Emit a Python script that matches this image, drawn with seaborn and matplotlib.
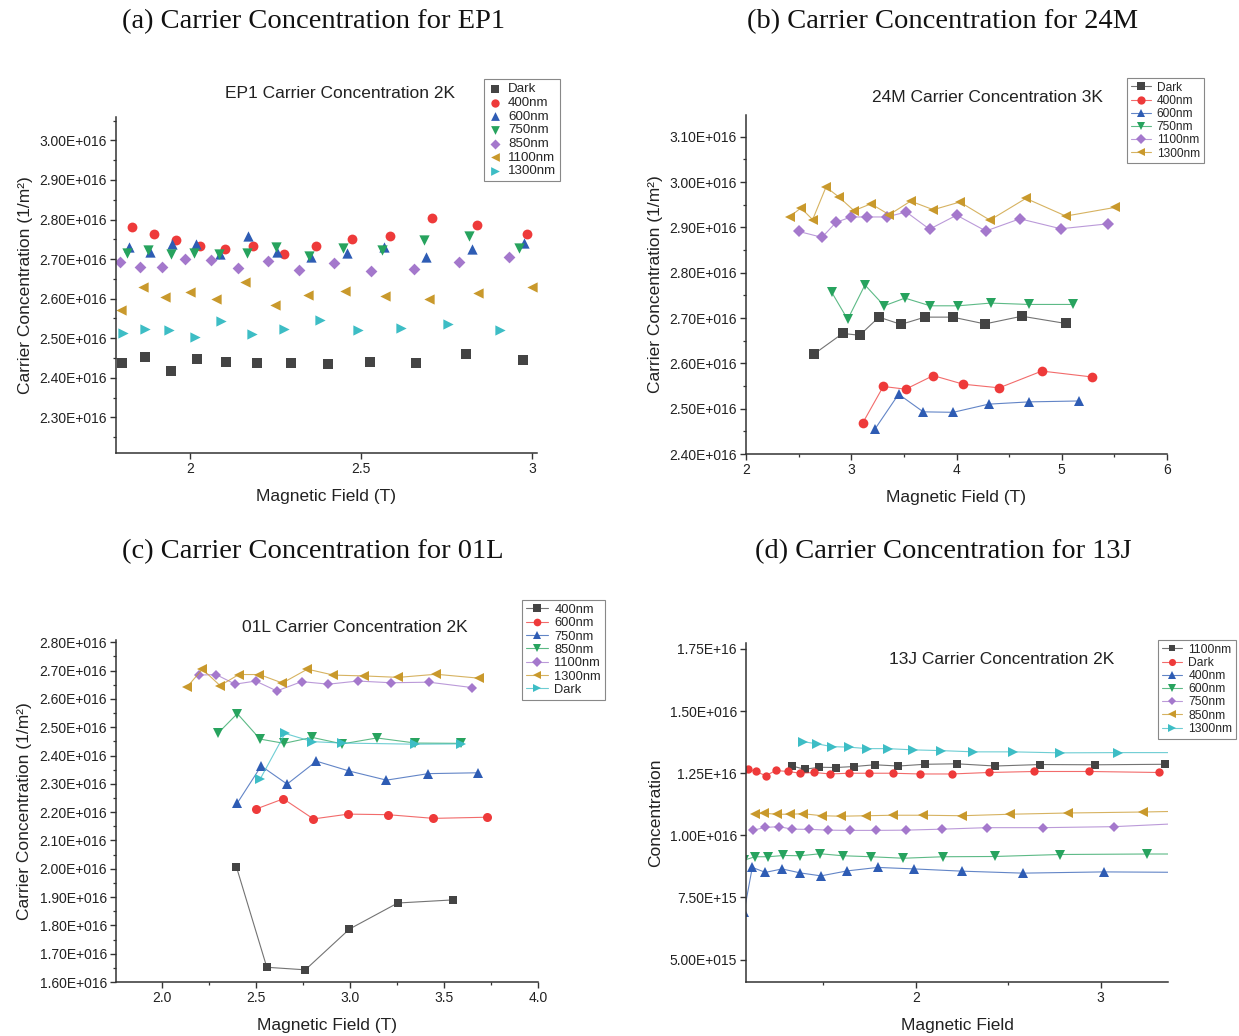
import numpy as np
import pandas as pd
import matplotlib
matplotlib.use("Agg")
import matplotlib.pyplot as plt
import matplotlib.colors as mcolors
import seaborn as sns
from matplotlib.ticker import FixedLocator, MultipleLocator, NullLocator

sns.set_theme(style="ticks")
plt.rcParams["font.family"] = ["Liberation Sans", "DejaVu Sans"]

# ---------------- data (y values in units of 1E+16) ----------------
# (a) EP1, 2K
a_dark_x = [1.803, 1.870, 1.944, 2.020, 2.105, 2.196, 2.296, 2.405, 2.526, 2.661, 2.808, 2.975]
a_dark_y = [2.437, 2.453, 2.417, 2.447, 2.440, 2.437, 2.437, 2.434, 2.439, 2.437, 2.460, 2.445]
a_400_x = [1.832, 1.894, 1.958, 2.029, 2.103, 2.185, 2.274, 2.369, 2.473, 2.585, 2.708, 2.840, 2.987]
a_400_y = [2.780, 2.764, 2.747, 2.734, 2.725, 2.734, 2.712, 2.734, 2.751, 2.759, 2.804, 2.785, 2.763]
a_600_x = [1.822, 1.883, 1.948, 2.017, 2.088, 2.169, 2.256, 2.353, 2.458, 2.567, 2.691, 2.825, 2.977]
a_600_y = [2.731, 2.718, 2.737, 2.737, 2.713, 2.758, 2.718, 2.705, 2.716, 2.731, 2.706, 2.725, 2.740]
a_750_x = [1.816, 1.879, 1.944, 2.013, 2.085, 2.166, 2.252, 2.349, 2.448, 2.561, 2.684, 2.817, 2.963]
a_750_y = [2.716, 2.724, 2.712, 2.716, 2.712, 2.716, 2.730, 2.708, 2.727, 2.724, 2.748, 2.759, 2.727]
a_850_x = [1.795, 1.855, 1.918, 1.987, 2.061, 2.140, 2.227, 2.320, 2.421, 2.531, 2.654, 2.787, 2.934]
a_850_y = [2.692, 2.681, 2.680, 2.701, 2.698, 2.678, 2.695, 2.672, 2.691, 2.670, 2.676, 2.692, 2.705]
a_1100_x = [1.798, 1.862, 1.926, 1.999, 2.076, 2.161, 2.249, 2.346, 2.453, 2.570, 2.700, 2.843, 2.999]
a_1100_y = [2.571, 2.630, 2.605, 2.617, 2.598, 2.642, 2.583, 2.609, 2.619, 2.606, 2.600, 2.615, 2.629]
a_1300_x = [1.805, 1.868, 1.939, 2.015, 2.092, 2.182, 2.276, 2.380, 2.493, 2.616, 2.754, 2.908]
a_1300_y = [2.512, 2.524, 2.521, 2.504, 2.543, 2.511, 2.523, 2.545, 2.522, 2.526, 2.536, 2.521]

# (b) 24M, 3K
b_dark_x = [2.649, 2.918, 3.080, 3.263, 3.472, 3.700, 3.963, 4.270, 4.621, 5.039]
b_dark_y = [2.621, 2.666, 2.662, 2.702, 2.686, 2.702, 2.702, 2.687, 2.704, 2.688]
b_400_x = [3.108, 3.304, 3.517, 3.779, 4.064, 4.406, 4.811, 5.286]
b_400_y = [2.468, 2.549, 2.543, 2.573, 2.554, 2.546, 2.583, 2.570]
b_600_x = [3.225, 3.450, 3.684, 3.969, 4.305, 4.690, 5.162]
b_600_y = [2.455, 2.532, 2.493, 2.492, 2.510, 2.515, 2.517]
b_750_x = [2.814, 2.966, 3.130, 3.313, 3.510, 3.750, 4.016, 4.324, 4.685, 5.108]
b_750_y = [2.757, 2.697, 2.773, 2.727, 2.744, 2.727, 2.727, 2.733, 2.730, 2.730]
b_1100_x = [2.503, 2.722, 2.855, 2.997, 3.152, 3.336, 3.522, 3.744, 4.001, 4.279, 4.602, 4.991, 5.444]
b_1100_y = [2.891, 2.878, 2.911, 2.923, 2.923, 2.923, 2.934, 2.896, 2.927, 2.892, 2.919, 2.897, 2.908]
b_1300_x = [2.418, 2.522, 2.633, 2.760, 2.883, 3.026, 3.187, 3.361, 3.564, 3.779, 4.032, 4.317, 4.659, 5.039, 5.504]
b_1300_y = [2.924, 2.943, 2.917, 2.989, 2.967, 2.937, 2.952, 2.928, 2.958, 2.939, 2.956, 2.916, 2.964, 2.925, 2.944]

# (c) 01L, 2K
c_400_x = [2.394, 2.556, 2.761, 2.996, 3.253, 3.548]
c_400_y = [2.007, 1.652, 1.643, 1.787, 1.879, 1.890]
c_600_x = [2.499, 2.644, 2.804, 2.990, 3.200, 3.443, 3.729]
c_600_y = [2.211, 2.247, 2.176, 2.193, 2.191, 2.178, 2.182]
c_750_x = [2.398, 2.526, 2.664, 2.820, 2.996, 3.193, 3.416, 3.679]
c_750_y = [2.231, 2.363, 2.299, 2.380, 2.345, 2.313, 2.336, 2.339]
c_850_x = [2.295, 2.399, 2.520, 2.648, 2.797, 2.958, 3.142, 3.347, 3.589]
c_850_y = [2.478, 2.548, 2.458, 2.443, 2.464, 2.441, 2.462, 2.444, 2.443]
c_1100_x = [2.195, 2.286, 2.387, 2.497, 2.609, 2.742, 2.884, 3.040, 3.218, 3.419, 3.649]
c_1100_y = [2.684, 2.686, 2.652, 2.663, 2.628, 2.661, 2.652, 2.663, 2.657, 2.659, 2.640]
c_1300_x = [2.130, 2.213, 2.307, 2.407, 2.517, 2.639, 2.772, 2.911, 3.076, 3.257, 3.457, 3.688]
c_1300_y = [2.641, 2.705, 2.647, 2.686, 2.686, 2.656, 2.705, 2.684, 2.681, 2.676, 2.687, 2.673]
c_dark_x = [2.520, 2.653, 2.798, 2.958, 3.347, 3.589]
c_dark_y = [2.316, 2.478, 2.449, 2.444, 2.440, 2.441]

# (d) 13J, 2K
d_1100_x = [1.330, 1.399, 1.478, 1.567, 1.666, 1.778, 1.906, 2.049, 2.222, 2.429, 2.673, 2.971, 3.350]
d_1100_y = [1.279, 1.266, 1.274, 1.273, 1.277, 1.284, 1.279, 1.286, 1.288, 1.279, 1.285, 1.284, 1.286]
d_dark_x = [1.093, 1.135, 1.188, 1.242, 1.307, 1.375, 1.451, 1.536, 1.637, 1.747, 1.875, 2.023, 2.195, 2.395, 2.642, 2.940, 3.314]
d_dark_y = [1.266, 1.257, 1.240, 1.261, 1.257, 1.250, 1.253, 1.247, 1.250, 1.250, 1.250, 1.247, 1.247, 1.253, 1.257, 1.257, 1.253]
d_400_x = [1.070, 1.115, 1.186, 1.276, 1.374, 1.487, 1.628, 1.794, 1.991, 2.249, 2.579, 3.018, 3.500]
d_400_y = [0.690, 0.871, 0.851, 0.865, 0.849, 0.837, 0.857, 0.871, 0.865, 0.856, 0.848, 0.853, 0.851]
d_600_x = [1.070, 1.130, 1.202, 1.283, 1.374, 1.482, 1.605, 1.756, 1.933, 2.149, 2.426, 2.781, 3.251, 3.500]
d_600_y = [0.900, 0.914, 0.914, 0.919, 0.918, 0.926, 0.918, 0.914, 0.908, 0.914, 0.915, 0.923, 0.925, 0.925]
d_750_x = [1.121, 1.186, 1.258, 1.332, 1.424, 1.527, 1.644, 1.785, 1.946, 2.142, 2.384, 2.688, 3.072, 3.500]
d_750_y = [1.021, 1.032, 1.035, 1.025, 1.024, 1.021, 1.020, 1.020, 1.021, 1.025, 1.031, 1.031, 1.035, 1.050]
d_850_x = [1.130, 1.180, 1.247, 1.319, 1.391, 1.491, 1.596, 1.731, 1.879, 2.041, 2.249, 2.511, 2.826, 3.232, 3.500]
d_850_y = [1.086, 1.089, 1.085, 1.085, 1.087, 1.079, 1.077, 1.079, 1.081, 1.081, 1.079, 1.085, 1.090, 1.094, 1.098]
d_1300_x = [1.391, 1.467, 1.547, 1.637, 1.738, 1.848, 1.987, 2.137, 2.312, 2.528, 2.781, 3.097, 3.500]
d_1300_y = [1.377, 1.368, 1.357, 1.355, 1.349, 1.349, 1.344, 1.341, 1.336, 1.336, 1.332, 1.333, 1.333]

# tick labels
a_yticks = [2.3, 2.4, 2.5, 2.6, 2.7, 2.8, 2.9, 3.0]
a_ylabels = ["2.30E+016", "2.40E+016", "2.50E+016", "2.60E+016", "2.70E+016", "2.80E+016", "2.90E+016", "3.00E+016"]
a_xticks = [2, 2.5, 3]
a_xlabels = ["2", "2.5", "3"]
b_yticks = [2.4, 2.5, 2.6, 2.7, 2.8, 2.9, 3.0, 3.1]
b_ylabels = ["2.40E+016", "2.50E+016", "2.60E+016", "2.70E+016", "2.80E+016", "2.90E+016", "3.00E+016", "3.10E+016"]
b_xticks = [2, 3, 4, 5, 6]
b_xlabels = ["2", "3", "4", "5", "6"]
c_yticks = [1.6, 1.7, 1.8, 1.9, 2.0, 2.1, 2.2, 2.3, 2.4, 2.5, 2.6, 2.7, 2.8]
c_ylabels = ["1.60E+016", "1.70E+016", "1.80E+016", "1.90E+016", "2.00E+016", "2.10E+016", "2.20E+016",
             "2.30E+016", "2.40E+016", "2.50E+016", "2.60E+016", "2.70E+016", "2.80E+016"]
c_xticks = [2.0, 2.5, 3.0, 3.5, 4.0]
c_xlabels = ["2.0", "2.5", "3.0", "3.5", "4.0"]
d_yticks = [0.5, 0.75, 1.0, 1.25, 1.5, 1.75]
d_ylabels = ["5.00E+015", "7.50E+15", "1.00E+016", "1.25E+16", "1.50E+016", "1.75E+16"]
d_xticks = [2, 3]
d_xlabels = ["2", "3"]

# ---------------- style ----------------
C_DARK = "#444444"
C_RED = "#EE3A3A"
C_BLUE = "#2E5CB4"
C_GREEN = "#27A35E"
C_PURPLE = "#A478CC"
C_GOLD = "#C9992C"
C_CYAN = "#3DBDC5"
SPINE = "#333333"

W, H = 1239, 1036
fig = plt.figure(figsize=(W / 100, H / 100), dpi=100)
fig.patch.set_facecolor("white")


def ax_px(l, t, r, b):
    return fig.add_axes([l / W, 1 - b / H, (r - l) / W, (b - t) / H])


def style_axis(ax, xlim, ylim, xt, xl, yt, yl, xminor, yminor, xlabel, ylabel):
    ax.set_xlim(*xlim)
    ax.set_ylim(*ylim)
    ax.xaxis.set_major_locator(FixedLocator(xt))
    ax.set_xticklabels(xl)
    ax.yaxis.set_major_locator(FixedLocator(yt))
    ax.set_yticklabels(yl)
    if xminor:
        ax.xaxis.set_minor_locator(MultipleLocator(xminor))
    else:
        ax.xaxis.set_minor_locator(NullLocator())
    if yminor:
        ax.yaxis.set_minor_locator(MultipleLocator(yminor))
    else:
        ax.yaxis.set_minor_locator(NullLocator())
    for s in ["top", "right"]:
        ax.spines[s].set_visible(False)
    for s in ["left", "bottom"]:
        ax.spines[s].set_color(SPINE)
        ax.spines[s].set_linewidth(1.1)
    ax.tick_params(which="major", direction="out", length=4.5, width=1.0, color=SPINE,
                   labelsize=10, labelcolor="#222222", pad=2)
    ax.tick_params(which="minor", direction="out", length=2.5, width=0.9, color=SPINE)
    ax.set_xlabel(xlabel, fontsize=12.5, color="#222222", labelpad=9)
    ax.set_ylabel(ylabel, fontsize=12.5, color="#222222", labelpad=5)
    ax.set_facecolor("white")
    ax.grid(False)


def leg(ax, x, y, fs, marker_only=False):
    lg = ax.legend(loc="upper left", bbox_to_anchor=(x / W, 1 - y / H), bbox_transform=fig.transFigure,
                   fontsize=fs, frameon=True, fancybox=False, edgecolor="#888888", framealpha=1,
                   borderpad=0.3, labelspacing=0.1, handletextpad=0.5,
                   handlelength=1.0 if marker_only else 1.7, borderaxespad=0, markerscale=0.85)
    lg.get_frame().set_linewidth(0.8)
    return lg


def series_line(ax, x, y, color, marker, label, ms=7.0):
    df = pd.DataFrame({"x": x, "y": y})
    sns.lineplot(data=df, x="x", y="y", ax=ax, color=color, marker=marker, markersize=ms,
                 markeredgewidth=0, linewidth=0.8, estimator=None, sort=False, label=label)
    ln = ax.lines[-1]
    ln.set_color(mcolors.to_rgba(color, 0.75))
    ln.set_markerfacecolor(color)
    ln.set_markeredgecolor(color)


def series_pts(ax, x, y, color, marker, label, s=48):
    df = pd.DataFrame({"x": x, "y": y})
    sns.scatterplot(data=df, x="x", y="y", ax=ax, color=color, marker=marker, s=s,
                    linewidth=0, label=label)


YLAB = "Carrier Concentration (1/m²)"
XLAB = "Magnetic Field (T)"

# ---------------- (a) ----------------
axA = ax_px(116, 117, 537, 453)
series_pts(axA, a_dark_x, a_dark_y, C_DARK, "s", "Dark", 42)
series_pts(axA, a_400_x, a_400_y, C_RED, "o", "400nm", 50)
series_pts(axA, a_600_x, a_600_y, C_BLUE, "^", "600nm", 55)
series_pts(axA, a_750_x, a_750_y, C_GREEN, "v", "750nm", 55)
series_pts(axA, a_850_x, a_850_y, C_PURPLE, "D", "850nm", 36)
series_pts(axA, a_1100_x, a_1100_y, C_GOLD, "<", "1100nm", 55)
series_pts(axA, a_1300_x, a_1300_y, C_CYAN, ">", "1300nm", 55)
style_axis(axA, (1.784, 3.015), (2.21, 3.059), a_xticks, a_xlabels, a_yticks, a_ylabels,
           None, 0.05, XLAB, YLAB)
leg(axA, 484, 79, 9.6, marker_only=True)

# ---------------- (b) ----------------
axB = ax_px(746, 115, 1167, 454)
series_line(axB, b_dark_x, b_dark_y, C_DARK, "s", "Dark", 6.5)
series_line(axB, b_400_x, b_400_y, C_RED, "o", "400nm", 7)
series_line(axB, b_600_x, b_600_y, C_BLUE, "^", "600nm", 7.5)
series_line(axB, b_750_x, b_750_y, C_GREEN, "v", "750nm", 7.5)
series_line(axB, b_1100_x, b_1100_y, C_PURPLE, "D", "1100nm", 6)
series_line(axB, b_1300_x, b_1300_y, C_GOLD, "<", "1300nm", 7.5)
style_axis(axB, (2, 6), (2.40, 3.148), b_xticks, b_xlabels, b_yticks, b_ylabels,
           0.5, 0.05, XLAB, YLAB)
leg(axB, 1127, 78, 8.6)

# ---------------- (c) ----------------
axC = ax_px(116, 640, 538, 982)
series_line(axC, c_400_x, c_400_y, C_DARK, "s", "400nm", 6)
series_line(axC, c_600_x, c_600_y, C_RED, "o", "600nm", 6.5)
series_line(axC, c_750_x, c_750_y, C_BLUE, "^", "750nm", 7)
series_line(axC, c_850_x, c_850_y, C_GREEN, "v", "850nm", 7)
series_line(axC, c_1100_x, c_1100_y, C_PURPLE, "D", "1100nm", 5.5)
series_line(axC, c_1300_x, c_1300_y, C_GOLD, "<", "1300nm", 7)
series_line(axC, c_dark_x, c_dark_y, C_CYAN, ">", "Dark", 7)
style_axis(axC, (1.753, 4.0), (1.60, 2.808), c_xticks, c_xlabels, c_yticks, c_ylabels,
           0.25, 0.05, XLAB, YLAB)
leg(axC, 522, 600, 9.3)

# ---------------- (d) ----------------
axD = ax_px(746, 643, 1168, 982)
series_line(axD, d_1100_x, d_1100_y, C_DARK, "s", "1100nm", 5.5)
series_line(axD, d_dark_x, d_dark_y, C_RED, "o", "Dark", 6)
series_line(axD, d_400_x, d_400_y, C_BLUE, "^", "400nm", 6.5)
series_line(axD, d_600_x, d_600_y, C_GREEN, "v", "600nm", 6.5)
series_line(axD, d_750_x, d_750_y, C_PURPLE, "D", "750nm", 5)
series_line(axD, d_850_x, d_850_y, C_GOLD, "<", "850nm", 6.5)
series_line(axD, d_1300_x, d_1300_y, C_CYAN, ">", "1300nm", 6.5)
style_axis(axD, (1.081, 3.365), (0.41, 1.774), d_xticks, d_xlabels, d_yticks, d_ylabels,
           0.5, None, "Magnetic Field", "Concentration")
leg(axD, 1158, 640, 8.7)

# ---------------- titles ----------------
serif = ["Liberation Serif", "DejaVu Serif"]
fig.text(313 / W, 1 - 22 / H, "(a) Carrier Concentration for EP1", ha="center", va="center",
         fontsize=20.5, family=serif, color="#111111")
fig.text(943 / W, 1 - 22 / H, "(b) Carrier Concentration for 24M", ha="center", va="center",
         fontsize=20.5, family=serif, color="#111111")
fig.text(313 / W, 1 - 552 / H, "(c) Carrier Concentration for 01L", ha="center", va="center",
         fontsize=20.5, family=serif, color="#111111")
fig.text(943 / W, 1 - 552 / H, "(d) Carrier Concentration for 13J", ha="center", va="center",
         fontsize=20.5, family=serif, color="#111111")

fig.text(340 / W, 1 - 93 / H, "EP1 Carrier Concentration 2K", ha="center", va="center", fontsize=12.5, color="#222222")
fig.text(987 / W, 1 - 97 / H, "24M Carrier Concentration 3K", ha="center", va="center", fontsize=12.5, color="#222222")
fig.text(355 / W, 1 - 627 / H, "01L Carrier Concentration 2K", ha="center", va="center", fontsize=12.5, color="#222222")
fig.text(1002 / W, 1 - 660 / H, "13J Carrier Concentration 2K", ha="center", va="center", fontsize=12.5, color="#222222")

fig.savefig("out.png", dpi=100, facecolor="white")
